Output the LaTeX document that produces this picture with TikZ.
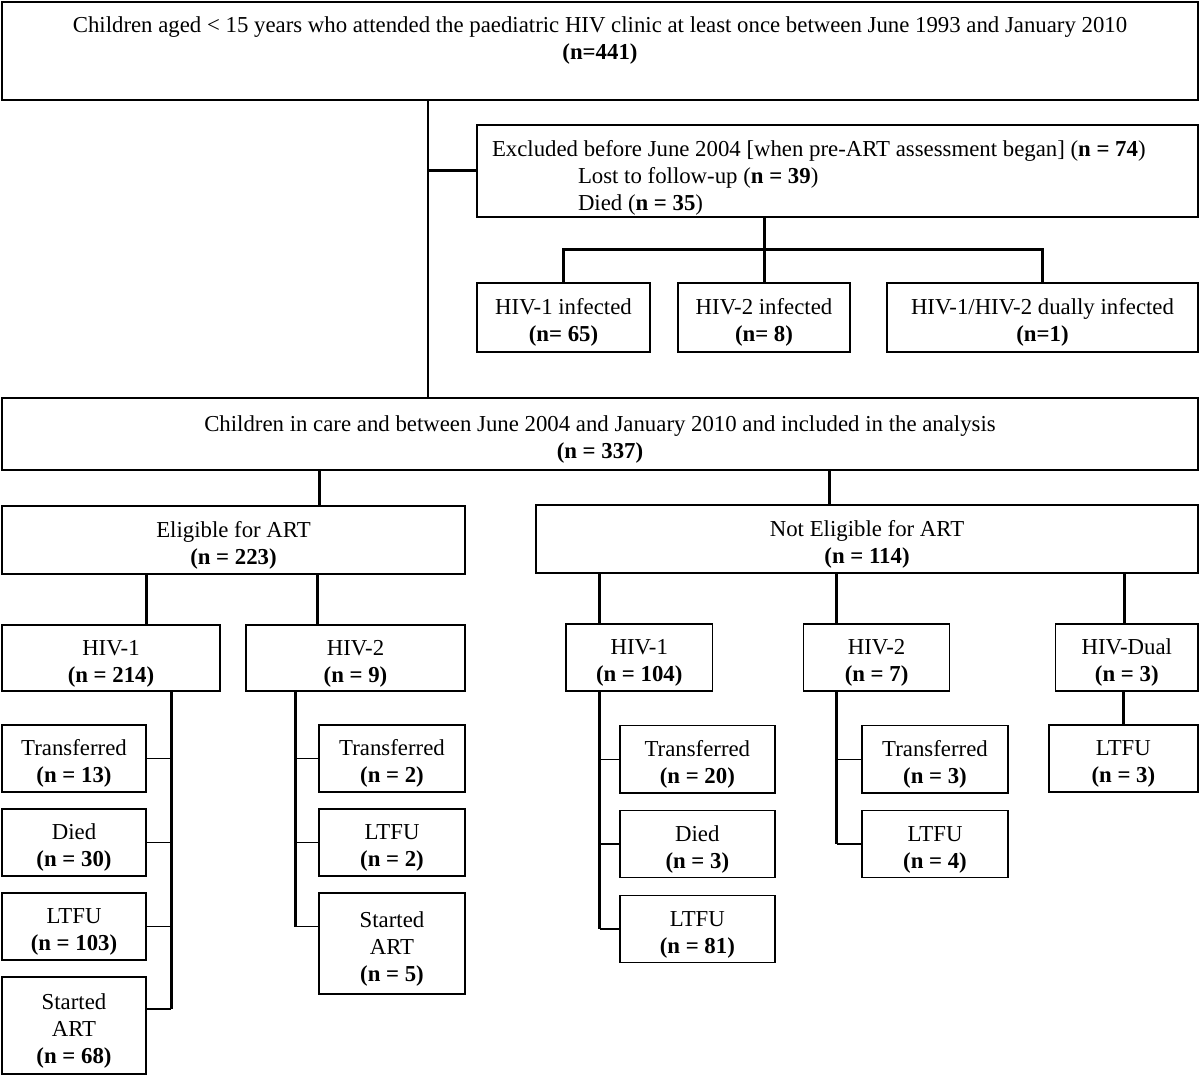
\documentclass[tikz,border=0pt]{standalone}
\usepackage{fontspec}
\setmainfont{Liberation Serif}
\usetikzlibrary{positioning, calc}
\newcommand{\tp}{\rule{0pt}{13pt}}

\begin{document}
\begin{tikzpicture}[x=0.5pt, y=-0.5pt,
  every node/.style={font=\fontsize{11.4}{13.5}\selectfont},
  box/.style={rectangle, draw=black, line width=0.75pt, align=center, inner sep=0pt},
  link/.style={line width=1.5pt},
  twig/.style={line width=0.7pt}
]
\useasboundingbox (0,0) rectangle (1200,1075);
% Top level
\node[box, minimum width=598pt, minimum height=49pt] (all) at (600,51) {};
\node[anchor=north, align=center, inner sep=0pt] (alltxt) at ([yshift=-7.5pt]all.north)
      {Children aged < 15 years who attended the paediatric HIV clinic at least once between June 1993 and January 2010\\
       \textbf{(n=441)}};
% Excluded
\node[box, minimum width=360.5pt, minimum height=46pt, align=flush left, text width=345.5pt,
      execute at begin node={\rule{0pt}{15pt}}] (excl) at (837.5,171)
      {Excluded before June 2004 [when pre-ART assessment began] (\textbf{n = 74})\\
       \hspace*{43pt}Lost to follow-up (\textbf{n = 39})\\
       \hspace*{43pt}Died (\textbf{n = 35})};
\node[box, minimum width=86.5pt, minimum height=34.5pt] (inf1) at (563.5,317.5) {\tp HIV-1 infected\\ \textbf{(n= 65)}};
\node[box, minimum width=86pt, minimum height=34.5pt]   (inf2) at (764,317.5)   {\tp HIV-2 infected\\ \textbf{(n= 8)}};
\node[box, minimum width=155.5pt, minimum height=34.5pt] (inf3) at (1042.5,317.5) {\tp HIV-1/HIV-2 dually infected\\ \textbf{(n=1)}};
% In care
\node[box, minimum width=598pt, minimum height=36pt] (care) at (600,434)
      {\tp Children in care and between June 2004 and January 2010 and included in the analysis\\ \textbf{(n = 337)}};
\node[box, minimum width=231.5pt, minimum height=34pt] (elig)  at (233.5,540) {\tp Eligible for ART\\ \textbf{(n = 223)}};
\node[box, minimum width=331pt, minimum height=34pt]   (nelig) at (867,539)   {\tp Not Eligible for ART\\ \textbf{(n = 114)}};
% Eligible branch
\node[box, minimum width=109pt, minimum height=33pt]   (h1e) at (111,658)   {\tp HIV-1\\ \textbf{(n = 214)}};
\node[box, minimum width=109.5pt, minimum height=33pt] (h2e) at (355.5,658) {\tp HIV-2\\ \textbf{(n = 9)}};
\node[box, minimum width=72pt, minimum height=33.5pt] (tr1) at (74,758.5)  {\tp Transferred\\ \textbf{(n = 13)}};
\node[box, minimum width=72pt, minimum height=33.5pt] (di1) at (74,842.5)  {\tp Died\\ \textbf{(n = 30)}};
\node[box, minimum width=72pt, minimum height=33.5pt] (lt1) at (74,926.5)  {\tp LTFU\\ \textbf{(n = 103)}};
\node[box, minimum width=72pt, minimum height=48.5pt] (sa1) at (74,1025.5) {\tp Started\\ ART\\ \textbf{(n = 68)}};
\node[box, minimum width=73pt, minimum height=33.5pt] (tr2) at (392,758.5) {\tp Transferred\\ \textbf{(n = 2)}};
\node[box, minimum width=73pt, minimum height=33.5pt] (lt2) at (392,842.5) {\tp LTFU\\ \textbf{(n = 2)}};
\node[box, minimum width=73pt, minimum height=50.5pt] (sa2) at (392,943.5) {\tp Started\\ ART\\ \textbf{(n = 5)}};
% Not eligible branch
\node[box, minimum width=73.25pt, minimum height=33.5pt] (h1n) at (639.25,657.5) {\tp HIV-1\\ \textbf{(n = 104)}};
\node[box, minimum width=73pt, minimum height=33.5pt]    (h2n) at (876.6,657.5)  {\tp HIV-2\\ \textbf{(n = 7)}};
\node[box, minimum width=71.2pt, minimum height=33.5pt]  (hdn) at (1126.8,657.5) {\tp HIV-Dual\\ \textbf{(n = 3)}};
\node[box, minimum width=77.6pt, minimum height=33.6pt] (tr3) at (697.35,759.3) {\tp Transferred\\ \textbf{(n = 20)}};
\node[box, minimum width=77.6pt, minimum height=33.6pt] (di3) at (697.35,844)   {\tp Died\\ \textbf{(n = 3)}};
\node[box, minimum width=77.6pt, minimum height=33.6pt] (lt3) at (697.35,929)   {\tp LTFU\\ \textbf{(n = 81)}};
\node[box, minimum width=73pt, minimum height=33.6pt]   (tr4) at (935,759.3)    {\tp Transferred\\ \textbf{(n = 3)}};
\node[box, minimum width=73pt, minimum height=33.6pt]   (lt4) at (935,844)      {\tp LTFU\\ \textbf{(n = 4)}};
\node[box, minimum width=74.6pt, minimum height=33.5pt] (ltd) at (1123.4,758.5) {\tp LTFU\\ \textbf{(n = 3)}};
% Top connectors
\coordinate (spine) at ([xshift=-86pt]all.south);
\draw[line width=1.2pt] (spine) -- (spine |- care.north);
\draw[link] (spine |- excl.west) -- (excl.west);
\draw[link] (excl.south -| inf2.north) -- (inf2.north);
\draw[link] (inf1.north) |- ($(excl.south)!.5!(inf2.north)$) -| (inf3.north);
% Care split
\coordinate (ce) at ([xshift=42.75pt]elig.north);
\coordinate (cn) at ([xshift=-18.75pt]nelig.north);
\draw[link] (ce |- care.south) -- (ce);
\draw[link] (cn |- care.south) -- (cn);
% Eligible
\coordinate (e1) at ([xshift=17.8pt]h1e.north);
\coordinate (e2) at ([xshift=-19.25pt]h2e.north);
\draw[link] (e1 |- elig.south) -- (e1);
\draw[link] (e2 |- elig.south) -- (e2);
\coordinate (v1) at ([xshift=30pt]h1e.south);
\coordinate (sa1k) at ([yshift=8.25pt]sa1.east);
\draw[link] (v1) -- (v1 |- sa1k);
\foreach \b in {tr1,di1,lt1} \draw[twig] (\b.east) -- (\b.east -| v1);
\draw[twig] (sa1k) -- (sa1k -| v1);
\coordinate (v2) at ([xshift=-30pt]h2e.south);
\coordinate (sa2k) at ([yshift=8.5pt]sa2.west);
\draw[link] (v2) -- (v2 |- sa2k);
\foreach \b in {tr2,lt2} \draw[twig] (\b.west) -- (\b.west -| v2);
\draw[twig] (sa2k) -- (sa2k -| v2);
% Not eligible
\coordinate (n1) at ([xshift=-19.75pt]h1n.north);
\coordinate (n2) at ([xshift=-19.9pt]h2n.north);
\coordinate (n3) at ([xshift=-1.4pt]hdn.north);
\foreach \c in {n1,n2,n3} \draw[link] (\c |- nelig.south) -- (\c);
\coordinate (v3) at ([xshift=-19.75pt]h1n.south);
\draw[link] (v3) -- (v3 |- lt3.west);
\foreach \b in {tr3,di3,lt3} \draw[twig] (\b.west) -- (\b.west -| v3);
\coordinate (v4) at ([xshift=-19.9pt]h2n.south);
\draw[link] (v4) -- (v4 |- lt4.west);
\foreach \b in {tr4,lt4} \draw[twig] (\b.west) -- (\b.west -| v4);
\draw[link] (ltd.north) -- (ltd.north |- hdn.south);
\end{tikzpicture}
\end{document}
